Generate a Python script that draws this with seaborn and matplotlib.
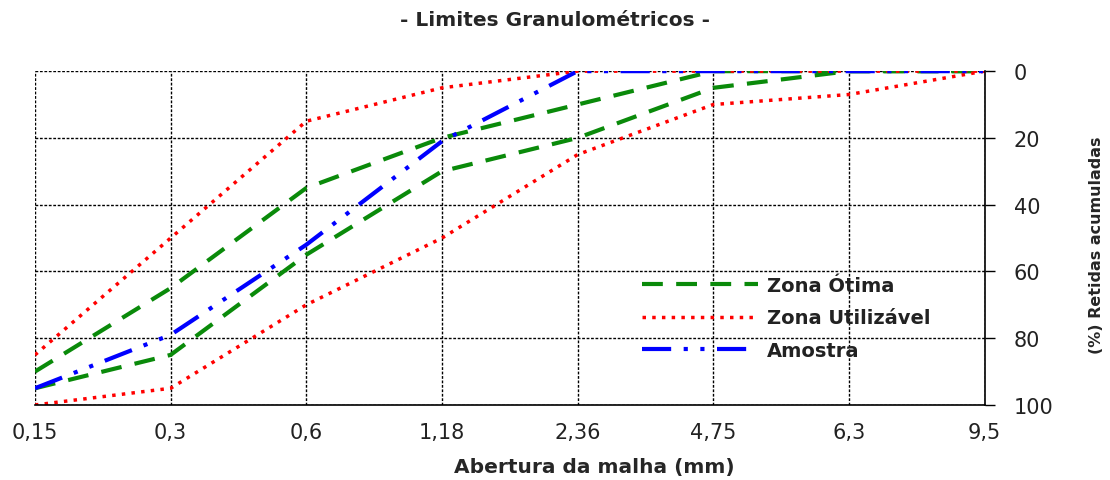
import numpy as np
import pandas as pd
from matplotlib import pyplot as plt
import seaborn as sns

# aberturas das peneiras (mm) e % retidas acumuladas
aberturas = ['0,15', '0,3', '0,6', '1,18', '2,36', '4,75', '6,3', '9,5']
otima_inf = [90, 65, 35, 20, 10, 0, 0, 0]
otima_sup = [95, 85, 55, 30, 20, 5, 0, 0]
util_inf = [85, 50, 15, 5, 0, 0, 0, 0]
util_sup = [100, 95, 70, 50, 25, 10, 7, 0]
amostra = [95, 79, 52, 21, 0, 0, 0, 0]

sns.set_style('white')
plt.rcParams['font.family'] = ['DejaVu Sans']

fig, ax = plt.subplots(figsize=(11.1, 4.81), dpi=100)
fig.subplots_adjust(left=0.0315, right=0.887, top=0.85, bottom=0.156)

pos = np.arange(len(aberturas))
verde = '#0a8a0a'

sns.lineplot(x=pos, y=otima_inf, ax=ax, color=verde, lw=3,
             linestyle=(0, (5, 3.2)), label='Zona Ótima')
sns.lineplot(x=pos, y=otima_sup, ax=ax, color=verde, lw=3,
             linestyle=(0, (5, 3.2)))
sns.lineplot(x=pos, y=util_inf, ax=ax, color='red', lw=2.5,
             linestyle=(0, (1, 1.8)), label='Zona Utilizável')
sns.lineplot(x=pos, y=util_sup, ax=ax, color='red', lw=2.5,
             linestyle=(0, (1, 1.8)))
sns.lineplot(x=pos, y=amostra, ax=ax, color='blue', lw=3,
             linestyle=(0, (7, 3, 1, 3, 1, 3)), label='Amostra')

ax.set_xlim(0, len(aberturas) - 1)
ax.set_ylim(100, 0)
ax.set_xticks(pos)
ax.set_xticklabels(aberturas)
ax.set_yticks(range(0, 101, 20))

ax.yaxis.tick_right()
ax.yaxis.set_label_position('right')
ax.tick_params(axis='both', labelsize=15, direction='out', length=7,
               width=1, color='black', labelcolor='#222222')
ax.tick_params(axis='x', pad=5)
ax.tick_params(axis='y', pad=14)

ax.grid(True, color='black', linestyle=(0, (2, 1.2)), lw=1)
for s in ['left', 'top']:
    ax.spines[s].set_visible(False)
for s in ['right', 'bottom']:
    ax.spines[s].set_color('black')
    ax.spines[s].set_linewidth(1.2)

ax.set_title('- Limites Granulométricos -', fontsize=14.5, fontweight='bold',
             x=0.548, pad=33)
ax.set_xlabel('Abertura da malha (mm)', fontsize=14.5, fontweight='bold')
ax.xaxis.set_label_coords(0.589, -0.155)
ax.set_ylabel('(%) Retidas acumuladas', fontsize=11.5, fontweight='bold')
ax.yaxis.set_label_coords(1.11, 0.48)

leg = ax.legend(loc='upper left', bbox_to_anchor=(632 / 1110, 1 - 267 / 481),
                bbox_transform=fig.transFigure, frameon=False, borderpad=0,
                handlelength=6.0, handletextpad=0.45, labelspacing=0.7,
                prop={'size': 14, 'weight': 'bold'})
for t in leg.get_texts():
    t.set_color('#222222')

plt.savefig('out.png', dpi=100)
